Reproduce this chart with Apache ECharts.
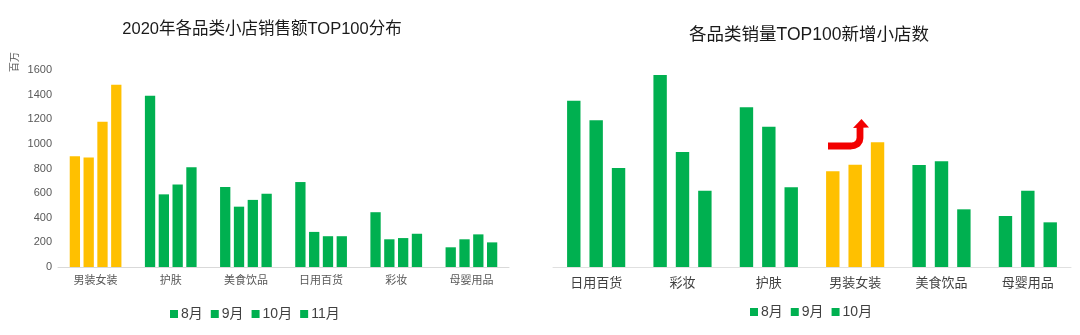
<!DOCTYPE html>
<html><head><meta charset="utf-8">
<script src="https://cdn.jsdelivr.net/npm/echarts@6/dist/echarts.min.js"></script>
<style>html,body{margin:0;padding:0;background:#fff}#c{width:1080px;height:335px}</style>
</head><body><div id="c"></div>
<script>
// Left chart: 2020 sales (百万)
const leftCats = ['男装女装','护肤','美食饮品','日用百货','彩妆','母婴用品'];
const leftSeriesNames = ['8月','9月','10月','11月'];
const leftAug = [900, 1390, 650, 690, 445, 160];
const leftSep = [890, 590, 490, 285, 225, 225];
const leftOct = [1180, 670, 545, 250, 235, 265];
const leftNov = [1480, 810, 595, 250, 270, 200];
const leftYTicks = [0, 200, 400, 600, 800, 1000, 1200, 1400, 1600];
const leftHighlight = '男装女装';

// Right chart: new small stores (estimated units)
const rightCats = ['日用百货','彩妆','护肤','男装女装','美食饮品','母婴用品'];
const rightSeriesNames = ['8月','9月','10月'];
const rightAug = [499, 576, 479, 287, 306, 153];
const rightSep = [440, 345, 421, 307, 317, 229];
const rightOct = [297, 229, 239, 374, 173, 134];
const rightHighlight = '男装女装';

const GREEN = '#00B050', YELLOW = '#FFC000';
const FONT = '"Liberation Sans","Noto Sans CJK SC",sans-serif';

function mk(vals, cats, hl) {
  return vals.map((v, i) => cats[i] === hl ? {value: v, itemStyle: {color: YELLOW}} : v);
}
const leftData = [leftAug, leftSep, leftOct, leftNov];
const rightData = [rightAug, rightSep, rightOct];

const series = [];
leftSeriesNames.forEach((n, i) => series.push({
  name: n, type: 'bar', xAxisIndex: 0, yAxisIndex: 0, barWidth: 10.3, barGap: '34%',
  itemStyle: {color: GREEN}, data: mk(leftData[i], leftCats, leftHighlight)
}));
rightSeriesNames.forEach((n, i) => series.push({
  name: 'r' + n, type: 'bar', xAxisIndex: 1, yAxisIndex: 1, barWidth: 13.4, barGap: '67%',
  itemStyle: {color: GREEN}, data: mk(rightData[i], rightCats, rightHighlight)
}));

const chart = echarts.init(document.getElementById('c'));
chart.setOption({
  backgroundColor: '#fff',
  animation: false,
  textStyle: {fontFamily: FONT},
  title: [
    {text: '2020年各品类小店销售额TOP100分布', left: 257, top: 16, textAlign: 'center',
     textStyle: {fontSize: 16.5, fontWeight: 'normal', color: '#1a1a1a', fontFamily: FONT}},
    {text: '各品类销量TOP100新增小店数', left: 804, top: 21, textAlign: 'center',
     textStyle: {fontSize: 17.5, fontWeight: 'normal', color: '#1a1a1a', fontFamily: FONT}}
  ],
  legend: [
    {data: leftSeriesNames, left: 165, top: 302, itemWidth: 8, itemHeight: 8, itemGap: 8,
     icon: 'rect', textStyle: {fontSize: 14, color: '#404040', padding: [0,0,0,-2]}},
    {data: rightSeriesNames.map(n => ({name: 'r' + n})), left: 745, top: 300, itemWidth: 8, itemHeight: 8, itemGap: 8,
     icon: 'rect', formatter: n => n.slice(1), textStyle: {fontSize: 14, color: '#404040', padding: [0,0,0,-2]}}
  ],
  grid: [
    {left: 58, width: 451, top: 70, bottom: 68},
    {left: 553, width: 518, top: 67, bottom: 68}
  ],
  xAxis: [
    {type: 'category', gridIndex: 0, data: leftCats,
     axisLine: {lineStyle: {color: '#d9d9d9'}}, axisTick: {show: false},
     axisLabel: {fontSize: 11, color: '#595959', margin: 8}},
    {type: 'category', gridIndex: 1, data: rightCats,
     axisLine: {lineStyle: {color: '#e0e0e0'}}, axisTick: {show: false},
     axisLabel: {fontSize: 13, color: '#404040', margin: 10}}
  ],
  yAxis: [
    {type: 'value', gridIndex: 0, min: leftYTicks[0], max: leftYTicks[leftYTicks.length-1],
     interval: leftYTicks[1] - leftYTicks[0],
     axisLine: {show: false}, axisTick: {show: false}, splitLine: {show: false},
     axisLabel: {fontSize: 11, color: '#595959', margin: 6, formatter: v => String(v)}},
    {type: 'value', gridIndex: 1, min: 0, max: 600, show: false, splitLine: {show: false}}
  ],
  graphic: [
    {type: 'text', x: 10, y: 72, rotation: Math.PI / 2,
     style: {text: '百万', fontSize: 10, fill: '#595959', fontFamily: FONT}},
    {type: 'polyline', shape: {points: [[828,146],[851,146],[854.5,145.4],[857.5,143.7],[859.4,141],[860,138],[860,126]]},
     style: {stroke: '#F20000', lineWidth: 6.8, fill: null, lineJoin: 'round'}},
    {type: 'polygon', shape: {points: [[853, 128], [861.5, 119], [869, 127.5]]},
     style: {fill: '#F20000'}}
  ],
  series: series
});
</script></body></html>
